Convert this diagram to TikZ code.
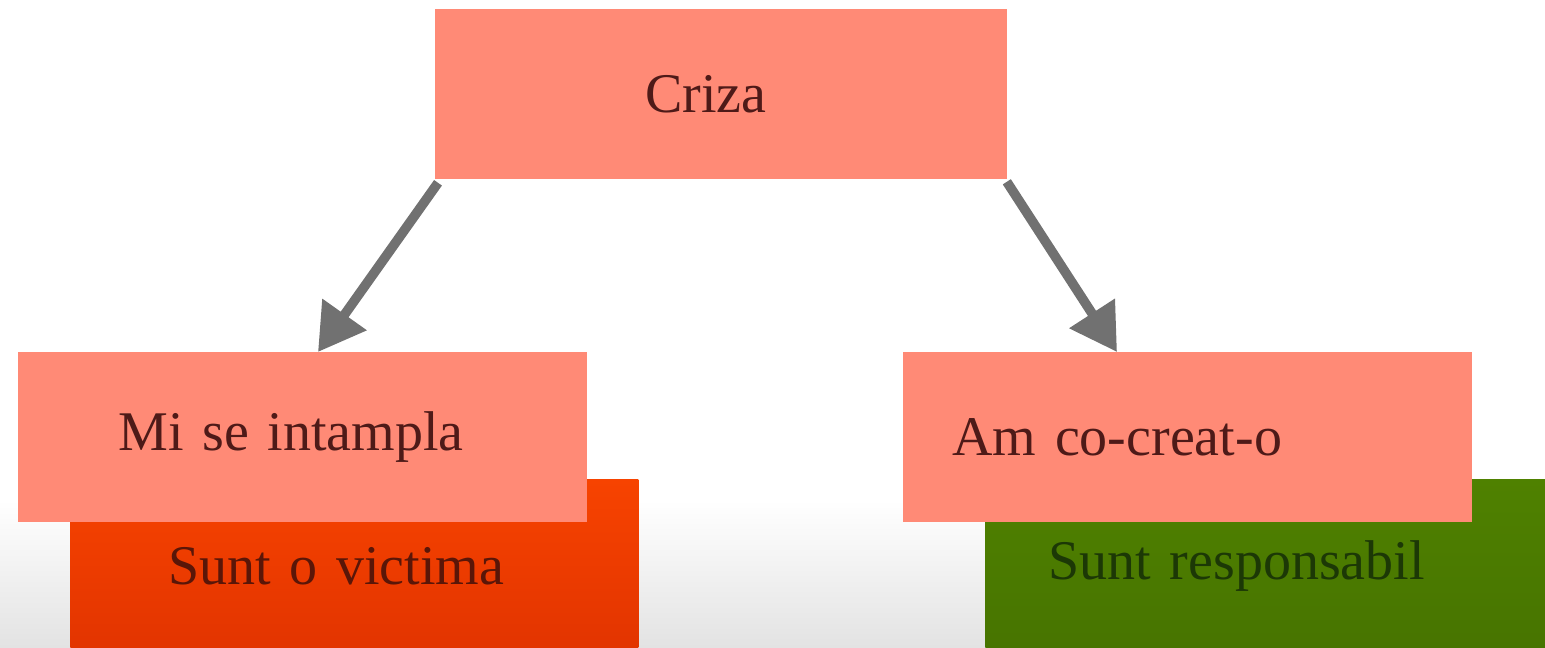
\documentclass[tikz,border=0pt]{standalone}
\usepackage{fontspec}
\setmainfont{Liberation Serif}
\usetikzlibrary{arrows.meta}
\definecolor{salmon}{HTML}{FF8A76}
\definecolor{saltext}{HTML}{4E1A18}
\definecolor{redtop}{HTML}{F74300}
\definecolor{redbot}{HTML}{E23400}
\definecolor{redtext}{HTML}{5A1608}
\definecolor{greentop}{HTML}{4F8100}
\definecolor{greenbot}{HTML}{477400}
\definecolor{greentext}{HTML}{1C3806}
\definecolor{arrowgray}{HTML}{717171}
\tikzset{
  box/.style={anchor=north west, rectangle, inner ysep=0pt, align=left,
    font=\fontsize{28}{32}\selectfont},
  salbox/.style={box, fill=salmon, text=saltext},
  connector/.style={draw=arrowgray, line width=4.8pt,
    -{Triangle[length=23pt,width=26pt]}}
}
\begin{document}
\begin{tikzpicture}[x=0.5pt,y=-0.5pt]
\useasboundingbox (0,0) rectangle (1545,647);
\shade[top color=white, bottom color=black!11, draw=none] (0,500) rectangle (1545,647);
% back boxes
\node[box, top color=redtop, bottom color=redbot, text=redtext,
  minimum height=86.5pt, inner xsep=49pt, text width=186pt] (victima) at (70,479) {Sunt o victima};
\node[box, top color=greentop, bottom color=greenbot, text=greentext,
  minimum height=86.5pt, inner xsep=31.5pt, text width=219.5pt] (resp) at (985,479) {Sunt responsabil};
% front boxes
\node[salbox, minimum height=85pt, inner xsep=105pt, text width=76pt] (criza) at (435,9) {Criza};
\node[salbox, minimum height=85pt, inner xsep=50pt, text width=184.5pt] (mi) at (18,352) {Mi se intampla};
\node[salbox, minimum height=85pt, inner xsep=24.5pt, text width=235.5pt] (am) at (903,352) {Am co-creat-o};
% connectors
\draw[connector] ([xshift=1.5pt,yshift=-1.5pt]criza.south west) -- ([xshift=150pt]mi.north west);
\draw[connector] ([xshift=-0.5pt,yshift=-1pt]criza.south east) -- ([xshift=107pt]am.north west);
\end{tikzpicture}
\end{document}
